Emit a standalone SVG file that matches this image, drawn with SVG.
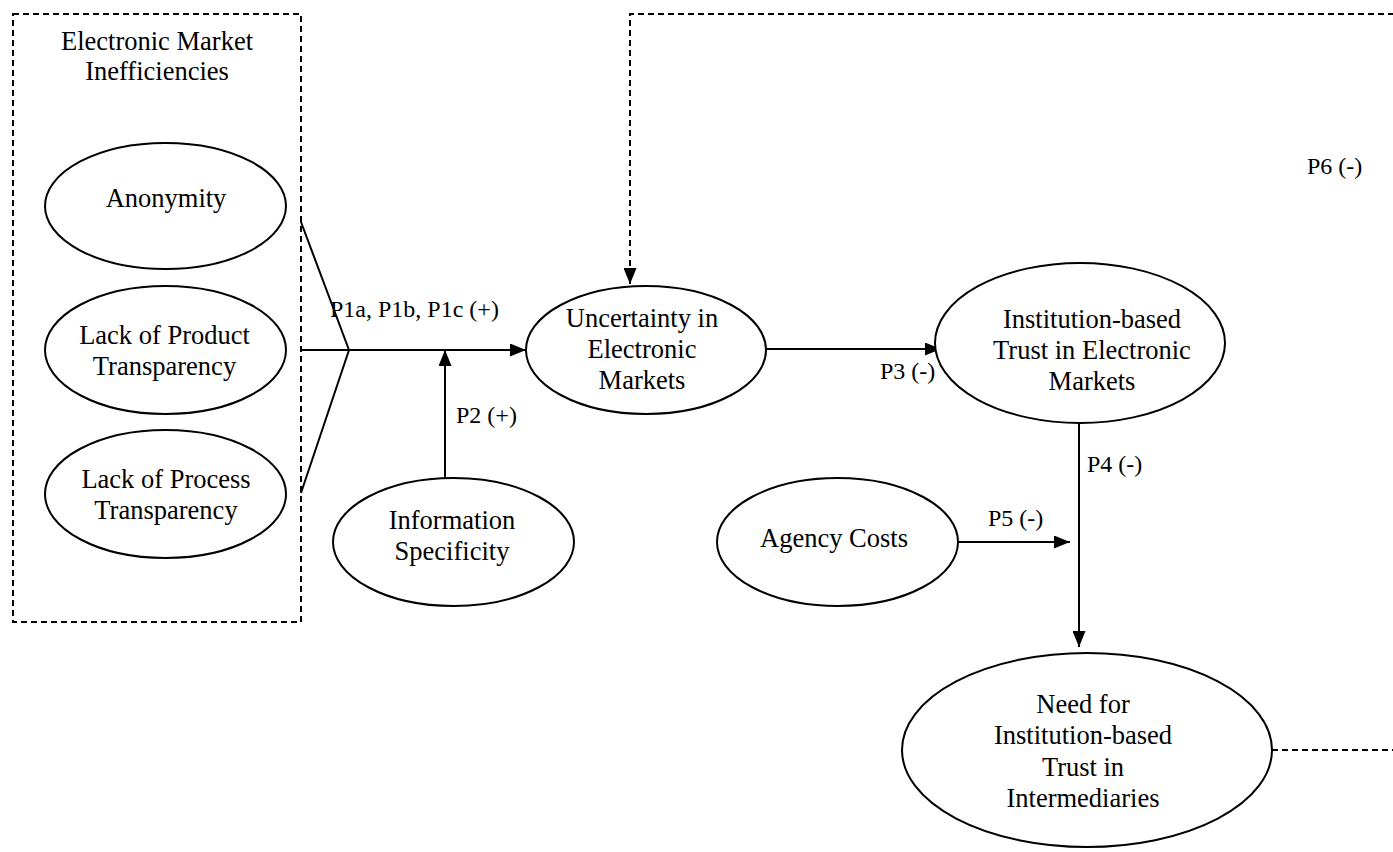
<svg xmlns="http://www.w3.org/2000/svg" width="1393" height="852" viewBox="0 0 1393 852">
<style>
.node ellipse{fill:#fff;stroke:#000;stroke-width:2}
.t{font-family:"Liberation Serif","Times New Roman",serif;font-size:26.5px;fill:#000;text-anchor:middle}
.lbl{font-family:"Liberation Serif","Times New Roman",serif;font-size:24px;fill:#000}
.ln{fill:none;stroke:#000;stroke-width:2}
.dash{fill:none;stroke:#000;stroke-width:2;stroke-dasharray:6 4}
</style>
<defs>
<marker id="ah" markerUnits="userSpaceOnUse" markerWidth="16" markerHeight="13" refX="16" refY="6.5" orient="auto">
<path d="M0,0 L16,6.5 L0,13 z" fill="#000" stroke="none"/>
</marker>
</defs>
<rect x="0" y="0" width="1393" height="852" fill="#fff"/>

<g id="group-inefficiencies">
<rect x="13" y="14" width="288" height="608" class="dash"/>
<text class="t" x="157" y="50">Electronic Market</text>
<text class="t" x="157" y="80">Inefficiencies</text>
</g>

<g id="connectors">
<path class="ln" d="M301,222 L349,350 L301,493"/>
<path class="ln" d="M301,350 H526" marker-end="url(#ah)"/>
<path class="ln" d="M445,478 V350" marker-end="url(#ah)"/>
<path class="ln" d="M766,349 H941" marker-end="url(#ah)"/>
<path class="ln" d="M1079,423 V647" marker-end="url(#ah)"/>
<path class="ln" d="M958,542 H1070" marker-end="url(#ah)"/>
<path class="dash" d="M1272,750 H1400 V14 H630 V284" marker-end="url(#ah)"/>
<text class="lbl" x="330" y="317">P1a, P1b, P1c (+)</text>
<text class="lbl" x="456" y="423">P2 (+)</text>
<text class="lbl" x="880" y="379">P3 (-)</text>
<text class="lbl" x="1087" y="472">P4 (-)</text>
<text class="lbl" x="988" y="526">P5 (-)</text>
<text class="lbl" x="1307" y="174">P6 (-)</text>
</g>

<g id="anonymity" class="node">
<ellipse cx="165.5" cy="206" rx="120.5" ry="63"/>
<text class="t" x="166" y="207">Anonymity</text>
</g>

<g id="product-transparency" class="node">
<ellipse cx="165.5" cy="350" rx="120.5" ry="64"/>
<text class="t" x="164.5" y="344">Lack of Product</text>
<text class="t" x="164.5" y="375">Transparency</text>
</g>

<g id="process-transparency" class="node">
<ellipse cx="165.5" cy="494" rx="120.5" ry="64"/>
<text class="t" x="166" y="488">Lack of Process</text>
<text class="t" x="166" y="519">Transparency</text>
</g>

<g id="information-specificity" class="node">
<ellipse cx="453.5" cy="542" rx="120.5" ry="64"/>
<text class="t" x="452" y="529">Information</text>
<text class="t" x="452" y="560">Specificity</text>
</g>

<g id="uncertainty" class="node">
<ellipse cx="646" cy="350" rx="120" ry="64"/>
<text class="t" x="642" y="327">Uncertainty in</text>
<text class="t" x="642" y="358">Electronic</text>
<text class="t" x="642" y="389">Markets</text>
</g>

<g id="institution-trust" class="node">
<ellipse cx="1080" cy="343" rx="145" ry="80"/>
<text class="t" x="1092" y="328">Institution-based</text>
<text class="t" x="1092" y="359">Trust in Electronic</text>
<text class="t" x="1092" y="390">Markets</text>
</g>

<g id="agency-costs" class="node">
<ellipse cx="837.5" cy="542" rx="120.5" ry="64"/>
<text class="t" x="834" y="547">Agency Costs</text>
</g>

<g id="need-intermediaries" class="node">
<ellipse cx="1087" cy="750" rx="185" ry="97"/>
<text class="t" x="1083" y="713">Need for</text>
<text class="t" x="1083" y="744">Institution-based</text>
<text class="t" x="1083" y="776">Trust in</text>
<text class="t" x="1083" y="807">Intermediaries</text>
</g>
</svg>
